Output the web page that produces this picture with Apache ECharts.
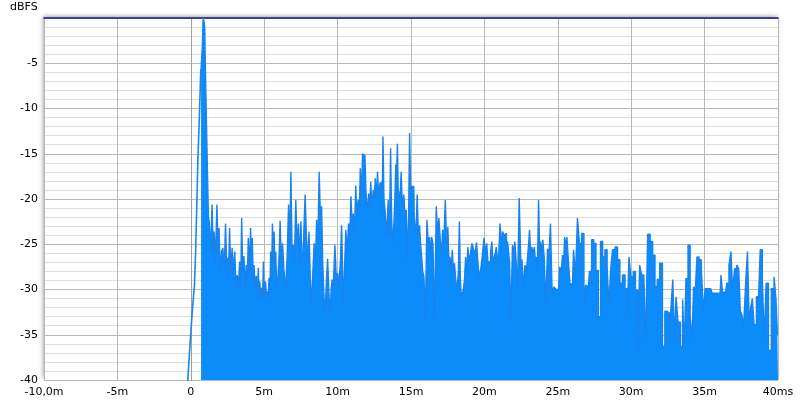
<!DOCTYPE html>
<html>
<head>
<meta charset="utf-8">
<script src="https://cdn.jsdelivr.net/npm/echarts@6/dist/echarts.min.js"></script>
<style>html,body{margin:0;padding:0;background:#fff}#c{width:800px;height:404px}</style>
</head>
<body>
<div id="c"></div>
<script>
// X axis ticks (ms) and Y axis (dBFS)
var xTicks = [-10, -5, 0, 5, 10, 15, 20, 25, 30, 35, 40];
var yTicks = [-40, -35, -30, -25, -20, -15, -10, -5, 0];

// Pre-arrival rise (thin line, no fill)
var riseMs = [-0.22, -0.15, 0.02, 0.12, 0.25, 0.33, 0.41, 0.48, 0.59, 0.68];
var riseDb = [-40.5, -38.5, -34.3, -32.0, -29.5, -25.8, -20.6, -15.8, -10.7, -5.6];

// Impulse body envelope (filled)
var bodyMs = [
0.70,0.77,0.81,0.85,0.88,0.93,0.97,1.00,1.07,1.10,1.18,1.22,1.30,1.40,1.50,1.56,1.61,1.72,1.84,1.90,
1.95,2.05,2.14,2.23,2.32,2.41,2.47,2.52,2.60,2.68,2.77,2.86,2.95,3.04,3.12,3.20,3.28,3.36,3.43,3.50,
3.58,3.66,3.74,3.81,3.88,3.95,4.03,4.11,4.16,4.22,4.28,4.34,4.42,4.50,4.57,4.63,4.68,4.72,4.80,4.86,
4.92,4.97,5.05,5.13,5.19,5.24,5.30,5.36,5.42,5.47,5.53,5.59,5.65,5.70,5.76,5.81,5.90,5.99,6.05,6.12,
6.20,6.30,6.40,6.52,6.62,6.70,6.78,6.86,6.94,7.02,7.10,7.20,7.29,7.38,7.46,7.54,7.62,7.70,7.76,7.82,
7.92,8.00,8.10,8.19,8.27,8.36,8.45,8.53,8.61,8.70,8.79,8.87,8.95,9.02,9.08,9.20,9.28,9.36,9.44,9.52,
9.60,9.65,9.75,9.88,9.96,10.04,10.10,10.15,10.23,10.31,10.38,10.45,10.52,10.60,10.70,10.79,10.87,10.95,11.03,11.10,
11.19,11.28,11.36,11.44,11.51,11.58,11.66,11.74,11.82,11.90,11.96,12.01,12.08,12.15,12.22,12.30,12.38,12.47,12.53,12.60,
12.68,12.76,12.84,12.92,13.00,13.06,13.12,13.20,13.30,13.40,13.49,13.57,13.65,13.71,13.76,13.82,13.87,13.93,13.99,14.05,
14.10,14.16,14.21,14.29,14.37,14.46,14.56,14.64,14.71,14.80,14.87,14.94,15.01,15.08,15.19,15.25,15.30,15.38,15.46,15.54,
15.62,15.69,15.76,15.84,15.92,16.03,16.14,16.22,16.30,16.37,16.44,16.55,16.66,16.78,16.86,16.94,17.05,17.12,17.19,17.28,
17.39,17.47,17.55,17.62,17.69,17.77,17.85,17.93,18.00,18.10,18.19,18.26,18.33,18.40,18.46,18.53,18.60,18.68,18.76,18.84,
18.91,19.00,19.10,19.21,19.32,19.41,19.52,19.60,19.69,19.76,19.82,19.92,20.03,20.12,20.20,20.28,20.37,20.46,20.55,20.63,
20.71,20.78,20.84,20.92,21.00,21.12,21.20,21.28,21.37,21.46,21.54,21.62,21.69,21.75,21.86,21.96,22.04,22.10,22.21,22.30,
22.44,22.52,22.60,22.70,22.82,22.90,22.98,23.04,23.11,23.19,23.27,23.36,23.45,23.51,23.57,23.65,23.73,23.80,23.86,23.94,
24.02,24.12,24.24,24.36,24.45,24.55,24.68,24.80,24.93,25.05,25.20,25.28,25.36,25.43,25.50,25.58,25.66,25.77,25.88,26.00,
26.14,26.27,26.41,26.54,26.72,26.84,26.95,27.09,27.22,27.39,27.52,27.68,27.84,27.98,28.13,28.29,28.43,28.54,28.65,28.81,
28.99,29.15,29.31,29.50,29.66,29.79,29.90,30.06,30.22,30.36,30.52,30.63,30.79,30.93,31.04,31.20,31.38,31.54,31.70,31.84,
32.04,32.22,32.36,32.52,32.68,32.79,32.88,33.00,33.11,33.27,33.45,33.56,33.67,33.79,33.95,34.08,34.19,34.31,34.42,34.54,
34.70,34.86,34.97,35.10,35.42,35.60,36.06,36.17,36.28,36.44,36.58,36.74,36.85,36.97,37.12,37.26,37.38,37.49,37.60,37.72,
37.87,37.97,38.10,38.20,38.30,38.44,38.62,38.73,38.85,39.01,39.12,39.26,39.44,39.65,39.81,39.92,40.00
];
var bodyDb = [
-5.6,-5.6,-3.0,-0.4,0,0,-1.0,-4.8,-4.8,-13.1,-13.3,-22,-22.5,-26,-20.6,-26,-23.6,-27,-20.6,-26,
-23.2,-28,-25.8,-25.4,-28,-22.7,-27,-26.5,-29,-23.2,-28,-25.4,-28,-25.8,-30,-28.4,-30,-26.9,-30,-22.1,
-28,-26.3,-30,-27.3,-29,-24.3,-28,-23.2,-27,-24.3,-29,-27.3,-30,-28.5,-30,-27.6,-31,-29.1,-31,-29.8,
-31,-26.9,-31,-29.1,-31,-30.2,-31,-28.7,-30,-25.8,-29,-22.7,-27,-23.6,-28,-25.8,-30,-28.4,-26,-22.4,
-27,-24.9,-28,-30,-26,-20.6,-25,-17.0,-26,-25.1,-27,-20.1,-25,-22.7,-27,-22.5,-27,-25.8,-22,-19.5,
-24,-27,-23.6,-29,-31.5,-28,-24.9,-27,-22.3,-25,-17.0,-22,-20.8,-27,-30,-33,-29,-26.6,-30,-33,
-30,-28.9,-29.9,-25.1,-29,-28.2,-30,-28.4,-27,-22.9,-28,-31.7,-27,-23.4,-26,-22.7,-24,-19.7,-23,-21.6,
-24,-18.5,-22,-20.1,-22,-16.6,-20,-15.0,-15.2,-15.0,-19,-20.6,-21,-19.4,-21,-18.1,-21,-19.0,-20,-17.7,
-20,-17.0,-20,-18.3,-18.1,-22,-13.1,-20,-21.6,-24,-20.1,-24,-14.4,-22,-25.1,-24,-22.3,-20,-16.2,-17,
-13.9,-19,-19.2,-20,-17.0,-21,-19.5,-22,-21.2,-26.7,-22,-12.7,-19,-18.6,-18.6,-22,-23.1,-24,-19.5,-24,
-22.9,-25,-26.4,-28,-28.6,-33.4,-22.3,-25,-24.2,-26,-24.2,-24.9,-33.7,-20.8,-24,-22.1,-24.5,-26,-23.4,-24.9,
-20.1,-25,-23.1,-27,-26.4,-28,-25.6,-28,-27.1,-29,-30.0,-28,-22.5,-29,-30.9,-31,-30,-29,-26.4,-28,
-25.3,-27,-26.0,-24.9,-25.6,-26,-24.8,-27,-28.6,-28,-27.3,-26,-24.3,-26,-24.9,-27,-26.9,-26,-24.7,-27,
-26.4,-26,-25.3,-26.4,-27,-22.7,-25,-23.6,-24,-23.8,-25,-24.7,-26,-27.1,-33.4,-25.1,-26,-24.7,-26.7,-30.0,
-19.9,-27,-26.7,-30.0,-27.3,-28,-26.4,-25,-23.4,-26,-25.3,-26,-25.3,-27,-26.4,-28,-20.1,-26,-24.7,-26,
-24.5,-26.4,-31.7,-25.5,-26,-22.7,-30.4,-29.7,-30.0,-30.0,-27.5,-28,-26.2,-27,-24.2,-25,-24.2,-26.7,-29.3,-29.5,
-25.6,-28.4,-22.1,-24.9,-23.8,-32.6,-29.5,-29.7,-28.0,-24.5,-24.9,-27.9,-33.0,-24.7,-26.4,-25.6,-27.5,-31.8,-27.9,-25.6,
-25.3,-26.7,-29.3,-28.4,-29.9,-33,-26.4,-28.6,-28.0,-30.1,-37.3,-27.3,-28.4,-28.6,-35.9,-23.9,-24.7,-26.2,-29.7,-28.9,
-27.1,-36.3,-32.4,-32.6,-35.0,-31.3,-28.9,-35.6,-30.8,-33.6,-36.3,-31.1,-36.7,-28.8,-25.1,-33.0,-35.6,-29.7,-30.1,-26.4,
-26.7,-27.7,-32.4,-29.9,-29.9,-30.4,-30.4,-28.4,-30.4,-30.2,-29.3,-27.3,-25.8,-30.1,-27.7,-27.3,-27.7,-32.4,-32.8,-34.1,
-29.3,-25.8,-33.4,-31.9,-31.0,-33.9,-30.8,-30.6,-25.6,-28.6,-35.6,-29.3,-36.7,-29.9,-28.6,-31.1,-35.0
];

function pairs(xs, ys) { var out = []; for (var i = 0; i < xs.length; i++) out.push([xs[i], ys[i]]); return out; }

var chart = echarts.init(document.getElementById('c'), null, {renderer: 'canvas'});
var font = '"DejaVu Sans", Arial, sans-serif';
var blue = '#0C8CFB';

chart.setOption({
  animation: false,
  backgroundColor: '#ffffff',
  title: {
    text: 'dBFS', left: 10, top: 2, padding: 0,
    textStyle: {fontSize: 11, fontWeight: 'normal', color: '#000', fontFamily: font}
  },
  grid: {
    left: 44, right: 22, top: 18, bottom: 24,
    show: true, backgroundColor: '#ffffff', borderWidth: 0,
    shadowColor: 'rgba(0,0,0,0.35)', shadowBlur: 4, shadowOffsetX: -1, shadowOffsetY: -2
  },
  xAxis: [{
    type: 'value', min: xTicks[0], max: xTicks[xTicks.length - 1], interval: 5,
    axisLine: {show: true, lineStyle: {color: '#a0a0a0', width: 1}},
    axisTick: {show: false},
    axisLabel: {
      color: '#000', fontSize: 11, fontFamily: font, margin: 7,
      showMinLabel: true, showMaxLabel: true,
      formatter: function (v) {
        if (v === xTicks[0]) return '-10,0m';
        if (v === 0) return '0';
        if (v === xTicks[xTicks.length - 1]) return v + 'ms';
        return v + 'm';
      }
    },
    splitLine: {show: true, lineStyle: {color: '#b8b8b8', width: 1}}
  }, {
    type: 'value', position: 'top', min: xTicks[0], max: xTicks[xTicks.length - 1],
    axisLine: {show: true, lineStyle: {color: '#1c1c8c', width: 1.5}},
    axisTick: {show: false}, axisLabel: {show: false}, splitLine: {show: false}
  }],
  yAxis: [{
    type: 'value', min: yTicks[0], max: yTicks[yTicks.length - 1], interval: 5,
    axisLine: {show: true, lineStyle: {color: '#a0a0a0', width: 1}},
    axisTick: {show: false},
    axisLabel: {
      color: '#000', fontSize: 11, fontFamily: font, margin: 6,
      formatter: function (v) { return v === 0 ? '' : String(v); }
    },
    splitLine: {show: true, lineStyle: {color: '#b8b8b8', width: 1}},
    minorTick: {show: false, splitNumber: 5},
    minorSplitLine: {show: true, lineStyle: {color: '#dedede', width: 1}}
  }, {
    type: 'value', position: 'right', min: yTicks[0], max: yTicks[yTicks.length - 1],
    axisLine: {show: true, lineStyle: {color: '#a0a0a0', width: 1}},
    axisTick: {show: false}, axisLabel: {show: false}, splitLine: {show: false}
  }],
  series: [{
    type: 'line', data: pairs(riseMs, riseDb), showSymbol: false, clip: true,
    lineStyle: {color: '#1a86ee', width: 1.6}, z: 3
  }, {
    type: 'line', step: 'middle', data: pairs(bodyMs, bodyDb), showSymbol: false, clip: true,
    lineStyle: {color: '#1883EC', width: 1.4},
    areaStyle: {color: blue, opacity: 1, origin: 'start'}, z: 3
  }]
});
</script>
</body>
</html>
